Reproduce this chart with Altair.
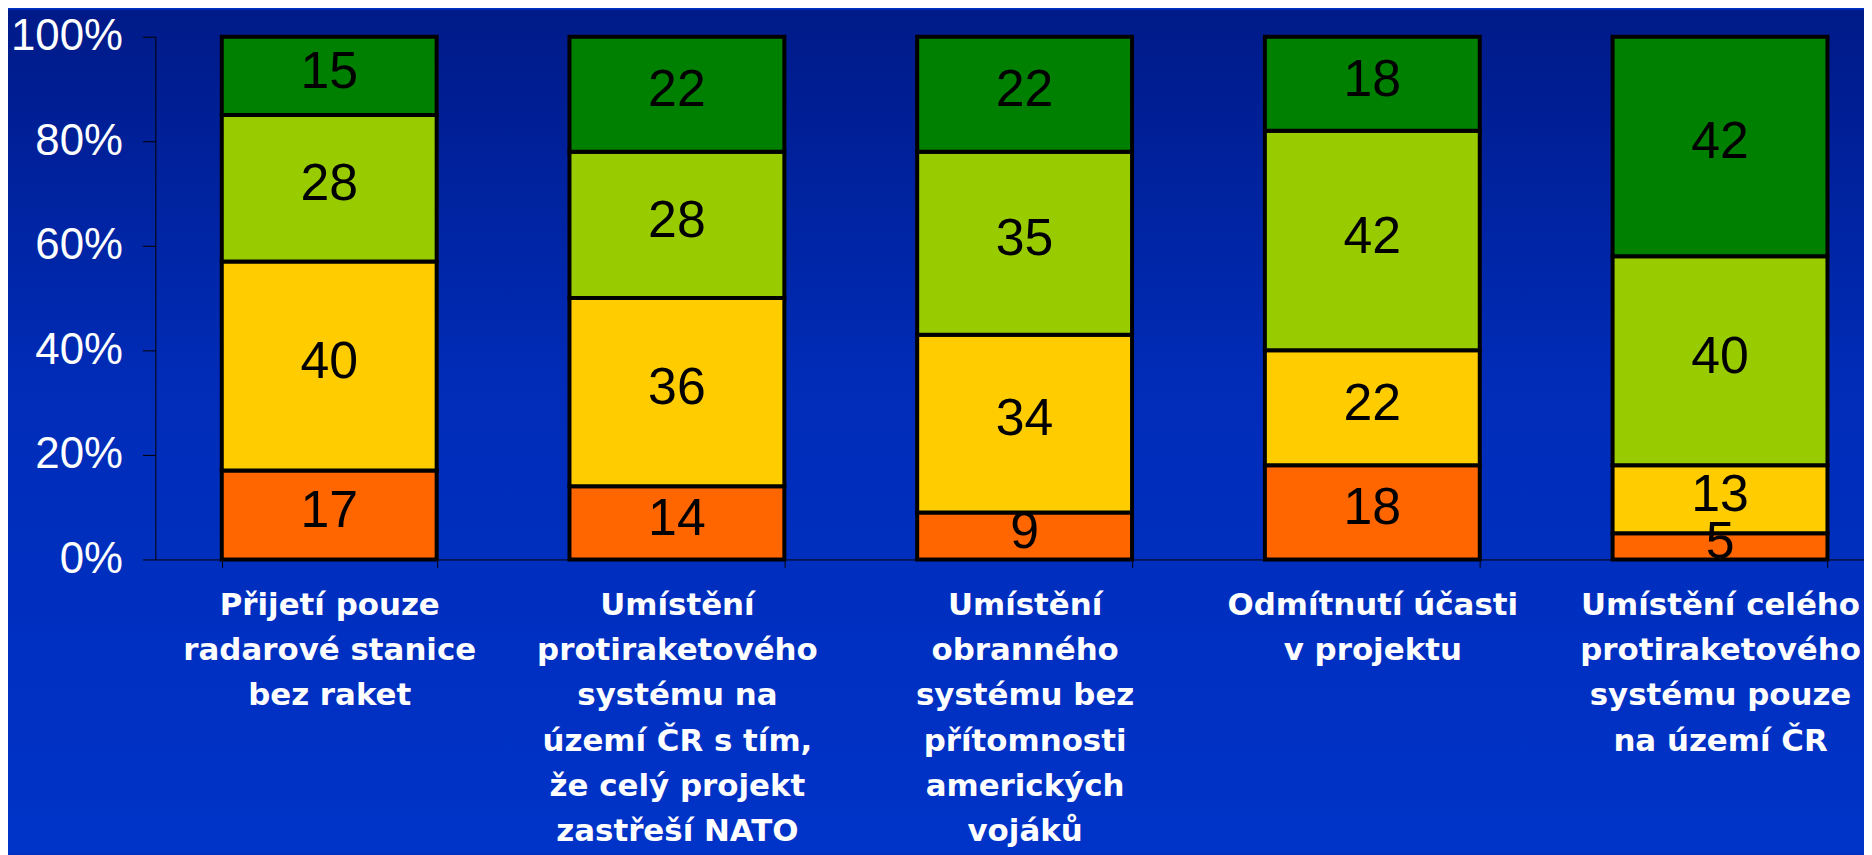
import altair as alt
import pandas as pd

categories = [
    "Přijetí pouze\nradarové stanice\nbez raket",
    "Umístění\nprotiraketového\nsystému na\núzemí ČR s tím,\nže celý projekt\nzastřeší NATO",
    "Umístění\nobranného\nsystému bez\npřítomnosti\namerických\nvojáků",
    "Odmítnutí účasti\nv projektu",
    "Umístění celého\nprotiraketového\nsystému pouze\nna území ČR",
]
series = ["řada 1", "řada 2", "řada 3", "řada 4"]  # bottom to top
s1_orange = [17, 14, 9, 18, 5]
s2_yellow = [40, 36, 34, 22, 13]
s3_lightgreen = [28, 28, 35, 42, 40]
s4_darkgreen = [15, 22, 22, 18, 42]
colors = ["#FF6600", "#FFCC00", "#99CC00", "#008000"]

values = [s1_orange, s2_yellow, s3_lightgreen, s4_darkgreen]
rows = []
for si, (name, vals) in enumerate(zip(series, values)):
    for ci, cat in enumerate(categories):
        rows.append({"cat": cat, "series": name, "order": si, "value": vals[ci]})
df = pd.DataFrame(rows)

W, H = 1716, 525
PAD_L, PAD_T, PAD_B = 148, 27, 295

xscale = alt.Scale(domain=categories, range=[0, 1746], paddingInner=0.382, paddingOuter=0.191)
yscale = alt.Scale(domain=[0, 1])

bg = alt.Chart(pd.DataFrame({"k": [0]})).mark_rect(
    fill=alt.LinearGradient(
        gradient="linear",
        stops=[alt.GradientStop(color="#001a88", offset=0),
               alt.GradientStop(color="#002cb8", offset=0.45),
               alt.GradientStop(color="#0033c8", offset=1)],
        x1=0, x2=0, y1=0, y2=1),
    strokeWidth=0,
).encode(x=alt.value(-PAD_L), x2=alt.value(W), y=alt.value(-PAD_T), y2=alt.value(H + PAD_B))

base = alt.Chart(df).transform_stack(
    stack="value", groupby=["cat"], as_=["y0", "y1"], offset="normalize",
    sort=[alt.SortField("order", order="ascending")],
).transform_calculate(mid="(datum.y0 + datum.y1) / 2")

xenc = alt.X(
    "cat:N", scale=xscale, sort=categories, title=None,
    axis=alt.Axis(
        labelAngle=0, labelFont="DejaVu Sans", labelFontWeight="bold", labelFontSize=31,
        labelColor="white", labelLineHeight=45.5, labelBaseline="top", labelAlign="center",
        labelExpr="split(datum.label, '\\n')", labelLimit=0, labelOverlap=False,
        labelPadding=23, tickBand="extent", tickSize=8, tickColor="black",
        domainColor="black", domainWidth=1, labelBound=False, grid=False, zindex=1,
    ),
)

bars = base.mark_bar(stroke="black", strokeWidth=4).encode(
    x=xenc,
    y=alt.Y("y0:Q", scale=yscale, title=None,
            axis=alt.Axis(values=[0, 0.2, 0.4, 0.6, 0.8, 1.0], format=".0%",
                          labelFont="Liberation Sans", labelFontSize=44, labelColor="white",
                          labelPadding=20, tickSize=13, tickColor="black",
                          domainColor="black", grid=False, zindex=1)),
    y2="y1:Q",
    color=alt.Color("series:N", scale=alt.Scale(domain=series, range=colors), legend=None),
)

labels = base.mark_text(font="Liberation Sans", fontSize=52, color="black",
                        baseline="middle", align="center", dy=-4).encode(
    x=alt.X("cat:N", scale=xscale, sort=categories),
    y=alt.Y("mid:Q", scale=yscale),
    text=alt.Text("value:Q"),
)

chart = alt.layer(bg, bars, labels).properties(
    width=W, height=H,
    padding={"left": PAD_L, "top": PAD_T, "right": 0, "bottom": PAD_B},
    autosize=alt.AutoSizeParams(type="none"),
    background="#0030c0",
).configure_view(stroke=None)

chart.save("out.html", embed_options={"renderer": "svg", "actions": False})
